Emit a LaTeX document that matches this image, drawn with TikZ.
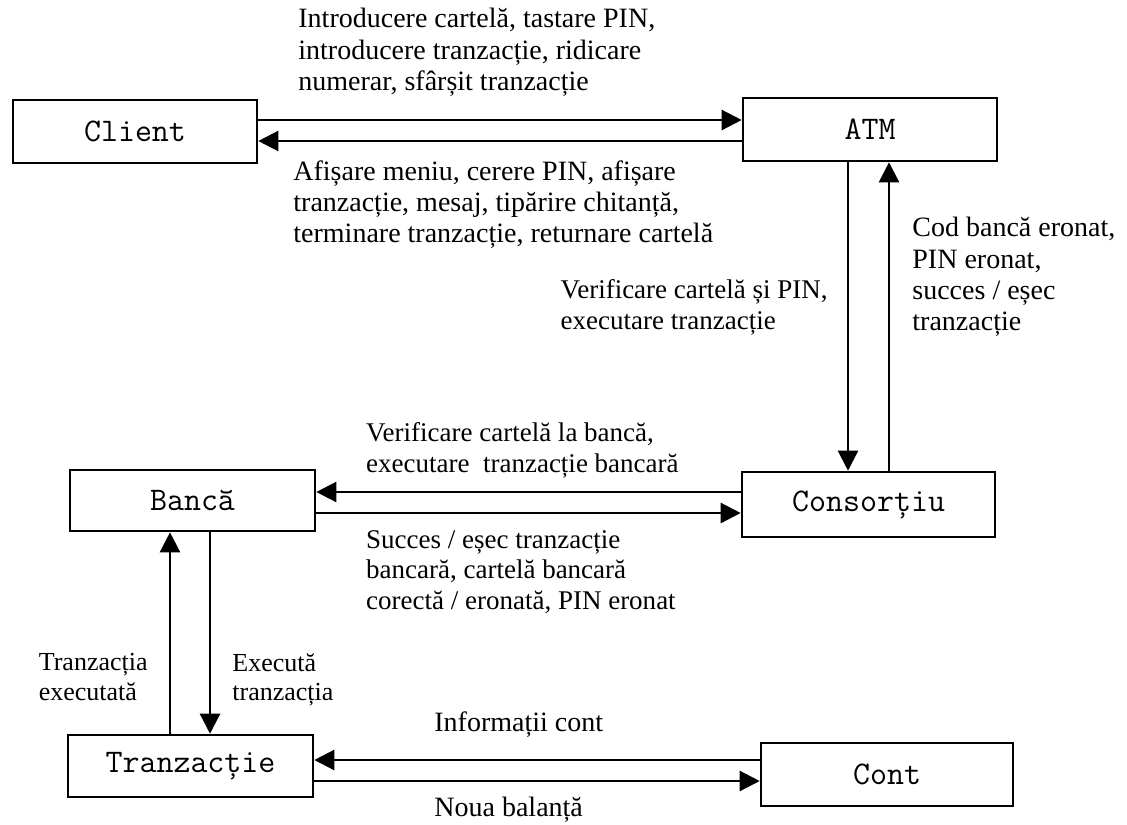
\documentclass[tikz,border=0pt]{standalone}
\usepackage{fontspec}
\setmainfont{Liberation Serif}
\usetikzlibrary{arrows.meta}
\begin{document}
\begin{tikzpicture}[x=0.5pt,y=-0.5pt,
  box/.style={draw, line width=1.3pt, inner sep=0pt,
    font=\fontsize{16.5}{20}\ttfamily},
  flow/.style={line width=1.2pt, -{Triangle[length=10pt,width=10pt]}},
  lbl/.style={align=left, inner sep=0pt, font=\fontsize{14}{15.6}\selectfont},
  lblm/.style={lbl, font=\fontsize{13.5}{15.3}\selectfont},
  lbls/.style={lbl, font=\fontsize{13}{14.7}\selectfont},
]
\useasboundingbox (0,0) rectangle (1127,824);

% entities
\node[box, minimum width=122pt, minimum height=31.5pt] (client) at (135,131.5) {Client};
\node[box, minimum width=127pt, minimum height=31.5pt] (atm) at (870,129.5) {ATM};
\node[box, minimum width=126.5pt, minimum height=32.5pt] (cons) at (868.5,504.5) {Consorțiu};
\node[box, minimum width=122.5pt, minimum height=30.5pt] (banca) at (192.5,500.5) {Bancă};
\node[box, minimum width=122.5pt, minimum height=31pt] (tranz) at (190.5,766) {Tranzacție};
\node[box, minimum width=126pt, minimum height=31.5pt] (cont) at (887,774.5) {Cont};

% Client <-> ATM
\draw[flow] (client.east |- 0,120) -- (atm.west |- 0,120);
\draw[flow] (atm.west |- 0,141) -- (client.east |- 0,141);
% ATM <-> Consortiu
\draw[flow] (atm.south -| 848,0) -- (cons.north -| 848,0);
\draw[flow] (cons.north -| 889,0) -- (atm.south -| 889,0);
% Consortiu <-> Banca
\draw[flow] (cons.west |- 0,492) -- (banca.east |- 0,492);
\draw[flow] (banca.east |- 0,513) -- (cons.west |- 0,513);
% Banca <-> Tranzactie
\draw[flow] (tranz.north -| 170,0) -- (banca.south -| 170,0);
\draw[flow] (banca.south -| 210,0) -- (tranz.north -| 210,0);
% Tranzactie <-> Cont
\draw[flow] (cont.west |- 0,760) -- (tranz.east |- 0,760);
\draw[flow] (tranz.east |- 0,781) -- (cont.west |- 0,781);

% message labels
\node[lbl, anchor=north west] (l1) at (298,8) {Introducere cartelă, tastare PIN,\\introducere tranzacție, ridicare\\numerar, sfârșit tranzacție};
\node[lbl, anchor=north west] (l2) at (293,160) {Afișare meniu, cerere PIN, afișare\\tranzacție, mesaj, tipărire chitanță,\\terminare tranzacție, returnare cartelă};
\node[lblm, anchor=north east] (l3) at (828,279) {Verificare cartelă și PIN,\\executare tranzacție};
\node[lbl, anchor=north west] (l4) at (912,217) {Cod bancă eronat,\\PIN eronat,\\succes / eșec\\tranzacție};
\node[lblm, anchor=north east] (l5) at (679,422) {Verificare cartelă la bancă,\\executare\ \ tranzacție bancară};
\node[lblm, anchor=north west] (l6) at (l5.west |- 0,530) {Succes / eșec tranzacție\\bancară, cartelă bancară\\corectă / eronată, PIN eronat};
\node[lbls, anchor=north east] (l7) at (148,653) {Tranzacția\\executată};
\node[lbls, anchor=north west] (l8) at (232,653) {Execută\\tranzacția};
\node[lbl, anchor=north west] (l9) at (434,711) {Informații cont};
\node[lbl, anchor=north west] (l10) at (434,797) {Noua balanță};
\end{tikzpicture}
\end{document}
